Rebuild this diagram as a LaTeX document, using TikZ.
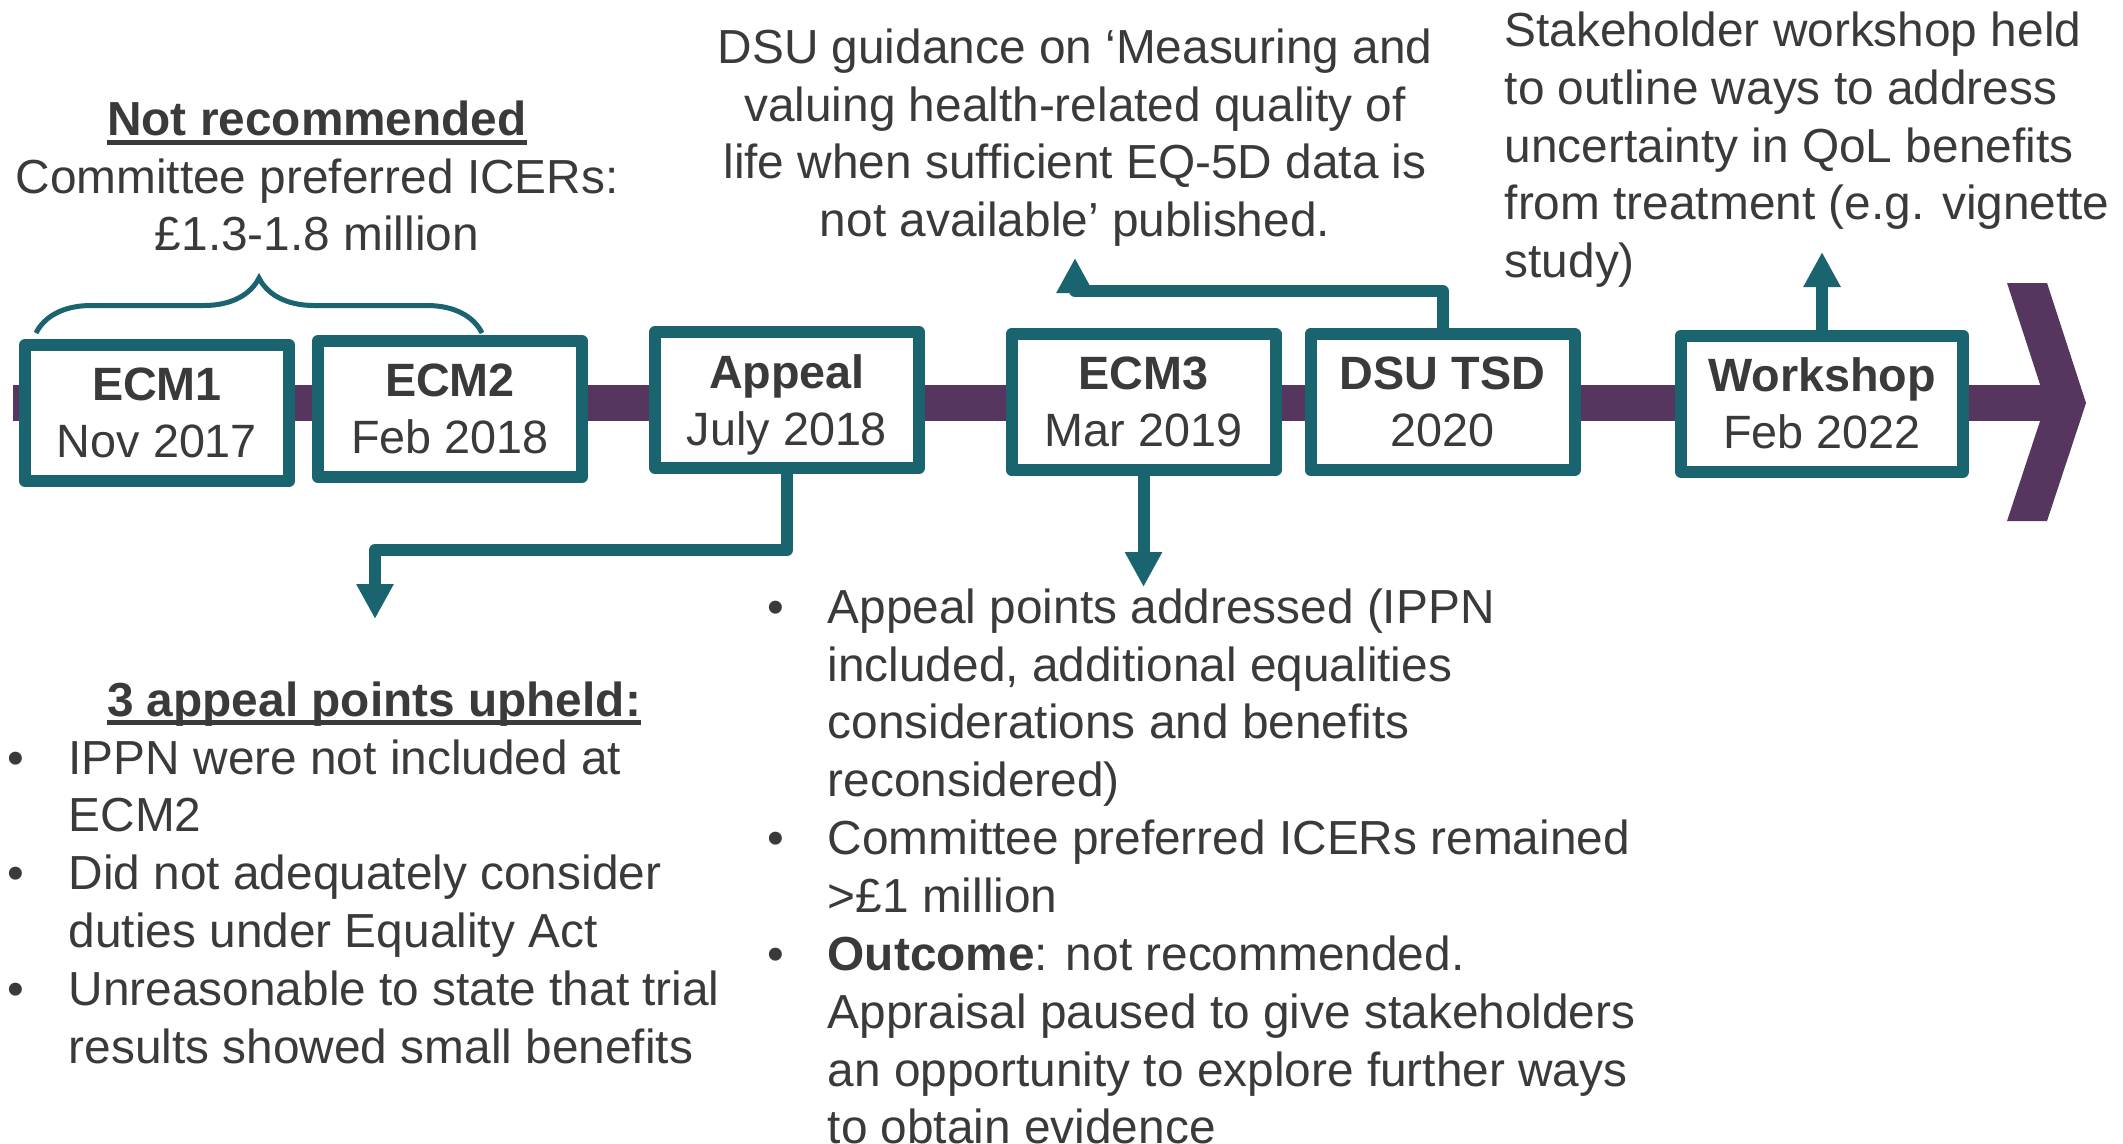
\documentclass[tikz,border=0pt]{standalone}
\usepackage{fontspec}
\setmainfont{Liberation Sans}
\usetikzlibrary{arrows.meta, decorations.pathreplacing}

\definecolor{tealline}{HTML}{19646E}
\definecolor{barpurple}{HTML}{56365F}
\definecolor{txtgray}{HTML}{3A3A3A}

% thick underline for the headings
\newcommand{\ulhead}[1]{\setbox0=\hbox{#1}\rlap{\rule[-2.6pt]{\wd0}{1.4pt}}\box0}

\begin{document}
\begin{tikzpicture}[
        milestone/.style={draw=tealline, line width=0.12cm, line join=round, fill=white, minimum width=2.64cm, minimum height=1.36cm, inner sep=0pt, align=center, text=txtgray, font=\fontsize{13.3}{16.3}\selectfont},
        conn/.style={draw=tealline, line width=0.12cm, line join=round, -{Triangle[width=0.35cm, length=0.35cm]}},
        timebar/.style={draw=barpurple, line width=0.36cm},
        curly/.style={draw=tealline, line width=0.05cm, decorate, decoration={brace, amplitude=0.55cm}},
        txt/.style={text=txtgray, inner sep=0pt, font=\fontsize{13.6}{16.4}\selectfont}
    ]
        \useasboundingbox (0,0) rectangle (21.23,-11.43);

        % timeline
        \draw[timebar] (0.13,-4.025) -- (20.47,-4.025);
        \fill[barpurple] (20.07,-2.83) -- (20.47,-2.83) -- (20.86,-4.03) -- (20.47,-5.21) -- (20.07,-5.21) -- (20.46,-4.03) -- cycle;

        \node[milestone] (ecm1) at (1.57,-4.13) {\textbf{ECM1}\\Nov 2017};
        \node[milestone] (ecm2) at (4.50,-4.09) {\textbf{ECM2}\\Feb 2018};
        \node[milestone] (appeal) at (7.87,-4.00) {\textbf{Appeal}\\Jul\smash{y} 2018};
        \node[milestone] (ecm3) at (11.435,-4.02) {\textbf{ECM3}\\Mar 2019};
        \node[milestone] (dsu) at (14.425,-4.02) {\textbf{DSU TSD}\\2020};
        \node[milestone, minimum width=2.82cm] (workshop) at (18.22,-4.035) {\textbf{Workshop}\\Feb 2022};

        % above the timeline (base = last line)
        \draw[curly] (0.36,-3.33) -- (4.82,-3.33);
        \node[txt, anchor=base, align=center] (notrec) at (3.17,-2.507) {\ulhead{\textbf{Not recommended}}\\Committee preferred ICERs:\\£1.3-1.8 million};
        \node[txt, anchor=base, align=center] (dsunote) at (10.75,-2.366) {DSU guidance on ‘Measuring and\\valuing health-related quality of\\life when sufficient EQ-5D data is\\not available’ published.};
        \node[txt, anchor=base west, align=left] (wsnote) at (15.04,-2.774) {Stakeholder workshop held\\to outline ways to address\\uncertainty in QoL benefits\\from treatment (e.g. vignette\\study)};

        \coordinate (dsutip) at (10.75,-2.58);
        \coordinate (wstip) at (18.22,-2.52);
        \draw[conn] (dsu.north) -- ++(0,0.37) -| (dsutip);
        \draw[conn] (workshop.north) -- (wstip);

        % appeal outcome
        \coordinate (upheldtip) at (3.75,-6.19);
        \draw[conn] (appeal.south) -- ++(0,-0.76) -| (upheldtip);
        \node[txt, anchor=base] (upheld) at (3.74,-7.16) {\ulhead{\textbf{3 appeal points upheld:}}};
        \node[txt, anchor=base] (ba1) at (0.16,-7.74) {•};
        \node[txt, anchor=base west, align=left] (pa1) at (0.68,-8.319) {IPPN were not included at\\ECM2};
        \node[txt, anchor=base] (ba2) at (0.16,-8.897) {•};
        \node[txt, anchor=base west, align=left] (pa2) at (0.68,-9.476) {Did not adequately consider\\duties under Equality Act};
        \node[txt, anchor=base] (ba3) at (0.16,-10.054) {•};
        \node[txt, anchor=base west, align=left] (pa3) at (0.68,-10.633) {Unreasonable to state that trial\\results showed small benefits};

        % ECM3 outcome
        \coordinate (ecm3tip) at (11.435,-5.87);
        \draw[conn] (ecm3.south) -- (ecm3tip);
        \node[txt, anchor=base] (bb1) at (7.76,-6.23) {•};
        \node[txt, anchor=base west, align=left] (pb1) at (8.27,-7.966) {Appeal points addressed (IPPN\\included, additional equalities\\considerations and benefits\\reconsidered)};
        \node[txt, anchor=base] (bb2) at (7.76,-8.544) {•};
        \node[txt, anchor=base west, align=left] (pb2) at (8.27,-9.122) {Committee preferred ICERs remained\\>£1 million};
        \node[txt, anchor=base] (bb3) at (7.76,-9.702) {•};
        \node[txt, anchor=base west, align=left] (pb3) at (8.27,-11.437) {\textbf{Outcome}: not recommended.\\Appraisal paused to give stakeholders\\an opportunity to explore further ways\\to obtain evidence};
    \end{tikzpicture}
\end{document}
